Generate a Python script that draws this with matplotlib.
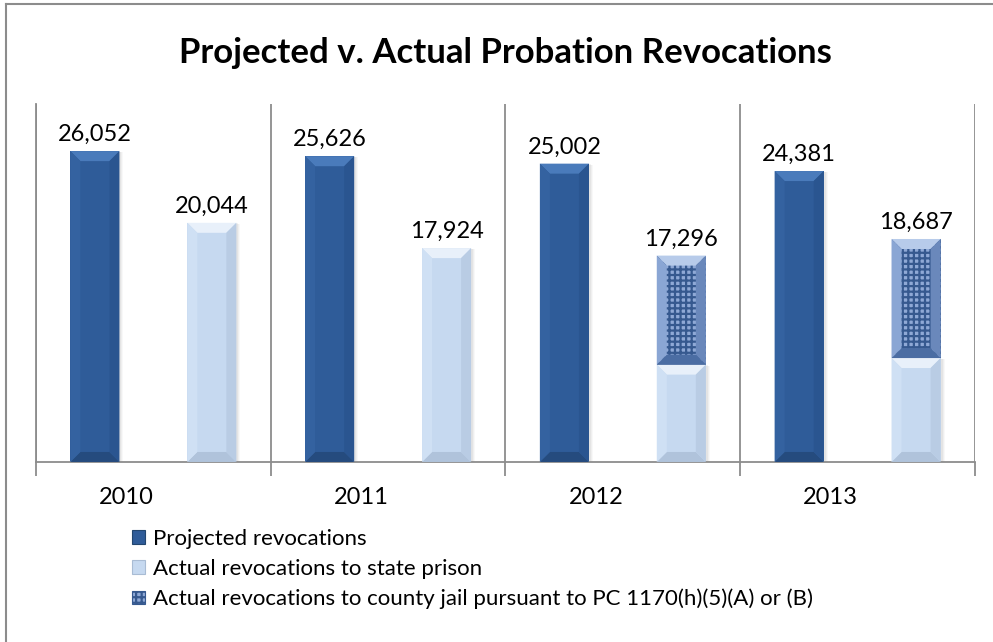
import matplotlib.pyplot as plt
import numpy as np
from matplotlib.patches import Patch, Polygon
from matplotlib.lines import Line2D

plt.rcParams['font.family'] = ['Lato', 'DejaVu Sans']
plt.rcParams['hatch.linewidth'] = 1.6

years = ['2010', '2011', '2012', '2013']
projected = [26052, 25626, 25002, 24381]
state_prison = [20044, 17924, 8160, 8710]
county_jail = [0, 0, 9136, 9977]
actual_total = [20044, 17924, 17296, 18687]

legend_labels = [
    'Projected revocations',
    'Actual revocations to state prison',
    'Actual revocations to county jail pursuant to PC 1170(h)(5)(A) or (B)',
]

DARK = '#2f5c99'
LIGHT = '#c6d9f0'
TEXTURE_FACE = '#8fa9d6'
TEXTURE_LINE = '#36598f'
GRID = '#8c8c8c'

fig = plt.figure(figsize=(9.93, 6.42), dpi=100)
ax = fig.add_axes([0.03625, 0.2804, 0.9456, 0.5576])

x = np.arange(len(years))
width = 0.209
offset = 0.249

ax.set_xlim(-0.5, len(years) - 0.5)
ax.set_ylim(0, 30000)

# pixel size of the bevel, converted into data units
bbox = ax.get_window_extent()
px_x = (len(years)) / bbox.width
px_y = 30000 / bbox.height
bev = 10


def bevel(rect, top_col, bot_col, left_col, right_col, draw_top=True):
    x0, y0 = rect.get_x(), rect.get_y()
    w, h = rect.get_width(), rect.get_height()
    if h <= 0:
        return
    bx, by = bev * px_x, min(bev * px_y, h / 2)
    x1, y1 = x0 + w, y0 + h
    if draw_top:
        ax.add_patch(Polygon([(x0, y1), (x1, y1), (x1 - bx, y1 - by), (x0 + bx, y1 - by)],
                             closed=True, facecolor=top_col, lw=0, zorder=3))
    ax.add_patch(Polygon([(x0, y0), (x1, y0), (x1 - bx, y0 + by), (x0 + bx, y0 + by)],
                         closed=True, facecolor=bot_col, lw=0, zorder=3))
    ax.add_patch(Polygon([(x0, y0), (x0 + bx, y0 + by), (x0 + bx, y1 - by), (x0, y1)],
                         closed=True, facecolor=left_col, lw=0, zorder=3))
    ax.add_patch(Polygon([(x1, y0), (x1 - bx, y0 + by), (x1 - bx, y1 - by), (x1, y1)],
                         closed=True, facecolor=right_col, lw=0, zorder=3))


def shadow(rect):
    x0, y0 = rect.get_x(), rect.get_y()
    w, h = rect.get_width(), rect.get_height()
    if h <= 0:
        return
    for k, a in [(4, 0.05), (3, 0.07), (2, 0.09)]:
        ax.add_patch(plt.Rectangle((x0 + k * px_x * 0.5, y0), w + k * px_x * 0.5, h - k * px_y * 0.3,
                                   facecolor='#7f7f7f', alpha=a, lw=0, zorder=1))


bars_proj = ax.bar(x - offset, projected, width, color=DARK, lw=0, zorder=2)
bars_state = ax.bar(x + offset, state_prison, width, color=LIGHT, lw=0, zorder=2)
bars_county = ax.bar(x + offset, county_jail, width, bottom=state_prison,
                     facecolor=TEXTURE_FACE, edgecolor=TEXTURE_LINE, hatch='+++', lw=0, zorder=2)

for r in bars_proj:
    shadow(r)
    bevel(r, '#4a7bbb', '#254b7e', '#3462a0', '#2a5590')
for r in bars_state:
    shadow(r)
    bevel(r, '#e8f0fa', '#b0c3db', '#cfe0f4', '#b9cce4')
for r in bars_county:
    bevel(r, '#b7cbea', '#4b6da3', '#8aa6d4', '#6a88bb')

# value labels above the bars
for xi, v in zip(x - offset, projected):
    ax.annotate(f'{v:,}', (xi, v), xytext=(0, 10), textcoords='offset pixels',
                ha='center', va='baseline', fontsize=17, color='black')
for xi, v in zip(x + offset, actual_total):
    ax.annotate(f'{v:,}', (xi, v), xytext=(0, 10), textcoords='offset pixels',
                ha='center', va='baseline', fontsize=17, color='black')

# category separators and ticks
ax.set_xticks(np.arange(-0.5, len(years)))
ax.set_xticklabels([])
ax.set_xticks(x - 0.115, minor=True)
ax.set_xticklabels(years, minor=True, fontsize=17)
ax.tick_params(axis='x', which='major', direction='out', length=10, color=GRID, width=1.3)
ax.tick_params(axis='x', which='minor', length=0, pad=18)
ax.grid(axis='x', which='major', color=GRID, lw=1.3, zorder=0)
ax.set_axisbelow(True)
ax.set_yticks([])
for s in ['top', 'right']:
    ax.spines[s].set_visible(False)
ax.spines['left'].set_color(GRID)
ax.spines['left'].set_linewidth(1.3)
ax.spines['bottom'].set_color(GRID)
ax.spines['bottom'].set_linewidth(1.3)

fig.text(0.5086, 1 - 63 / 642, 'Projected v. Actual Probation Revocations',
         ha='center', va='baseline', fontsize=25, fontweight='bold')

handles = [
    Patch(facecolor=DARK, edgecolor='#22466f', lw=0.8),
    Patch(facecolor=LIGHT, edgecolor='#a9bcd4', lw=0.8),
    Patch(facecolor=TEXTURE_FACE, edgecolor=TEXTURE_LINE, hatch='+++', lw=0.8),
]
fig.legend(handles, legend_labels, loc='upper left', bbox_to_anchor=(121 / 993, 1 - 518 / 642),
           frameon=False, fontsize=16, handlelength=0.58, handleheight=0.58,
           handletextpad=0.35, labelspacing=0.44, borderpad=0)

# outer frame
fig.add_artist(Line2D([6 / 993, 6 / 993], [0, 1 - 4 / 642], color='#8c8c8c', lw=1.5))
fig.add_artist(Line2D([6 / 993, 1], [1 - 4 / 642, 1 - 4 / 642], color='#8c8c8c', lw=1.5))

fig.savefig('out.png', dpi=100)
